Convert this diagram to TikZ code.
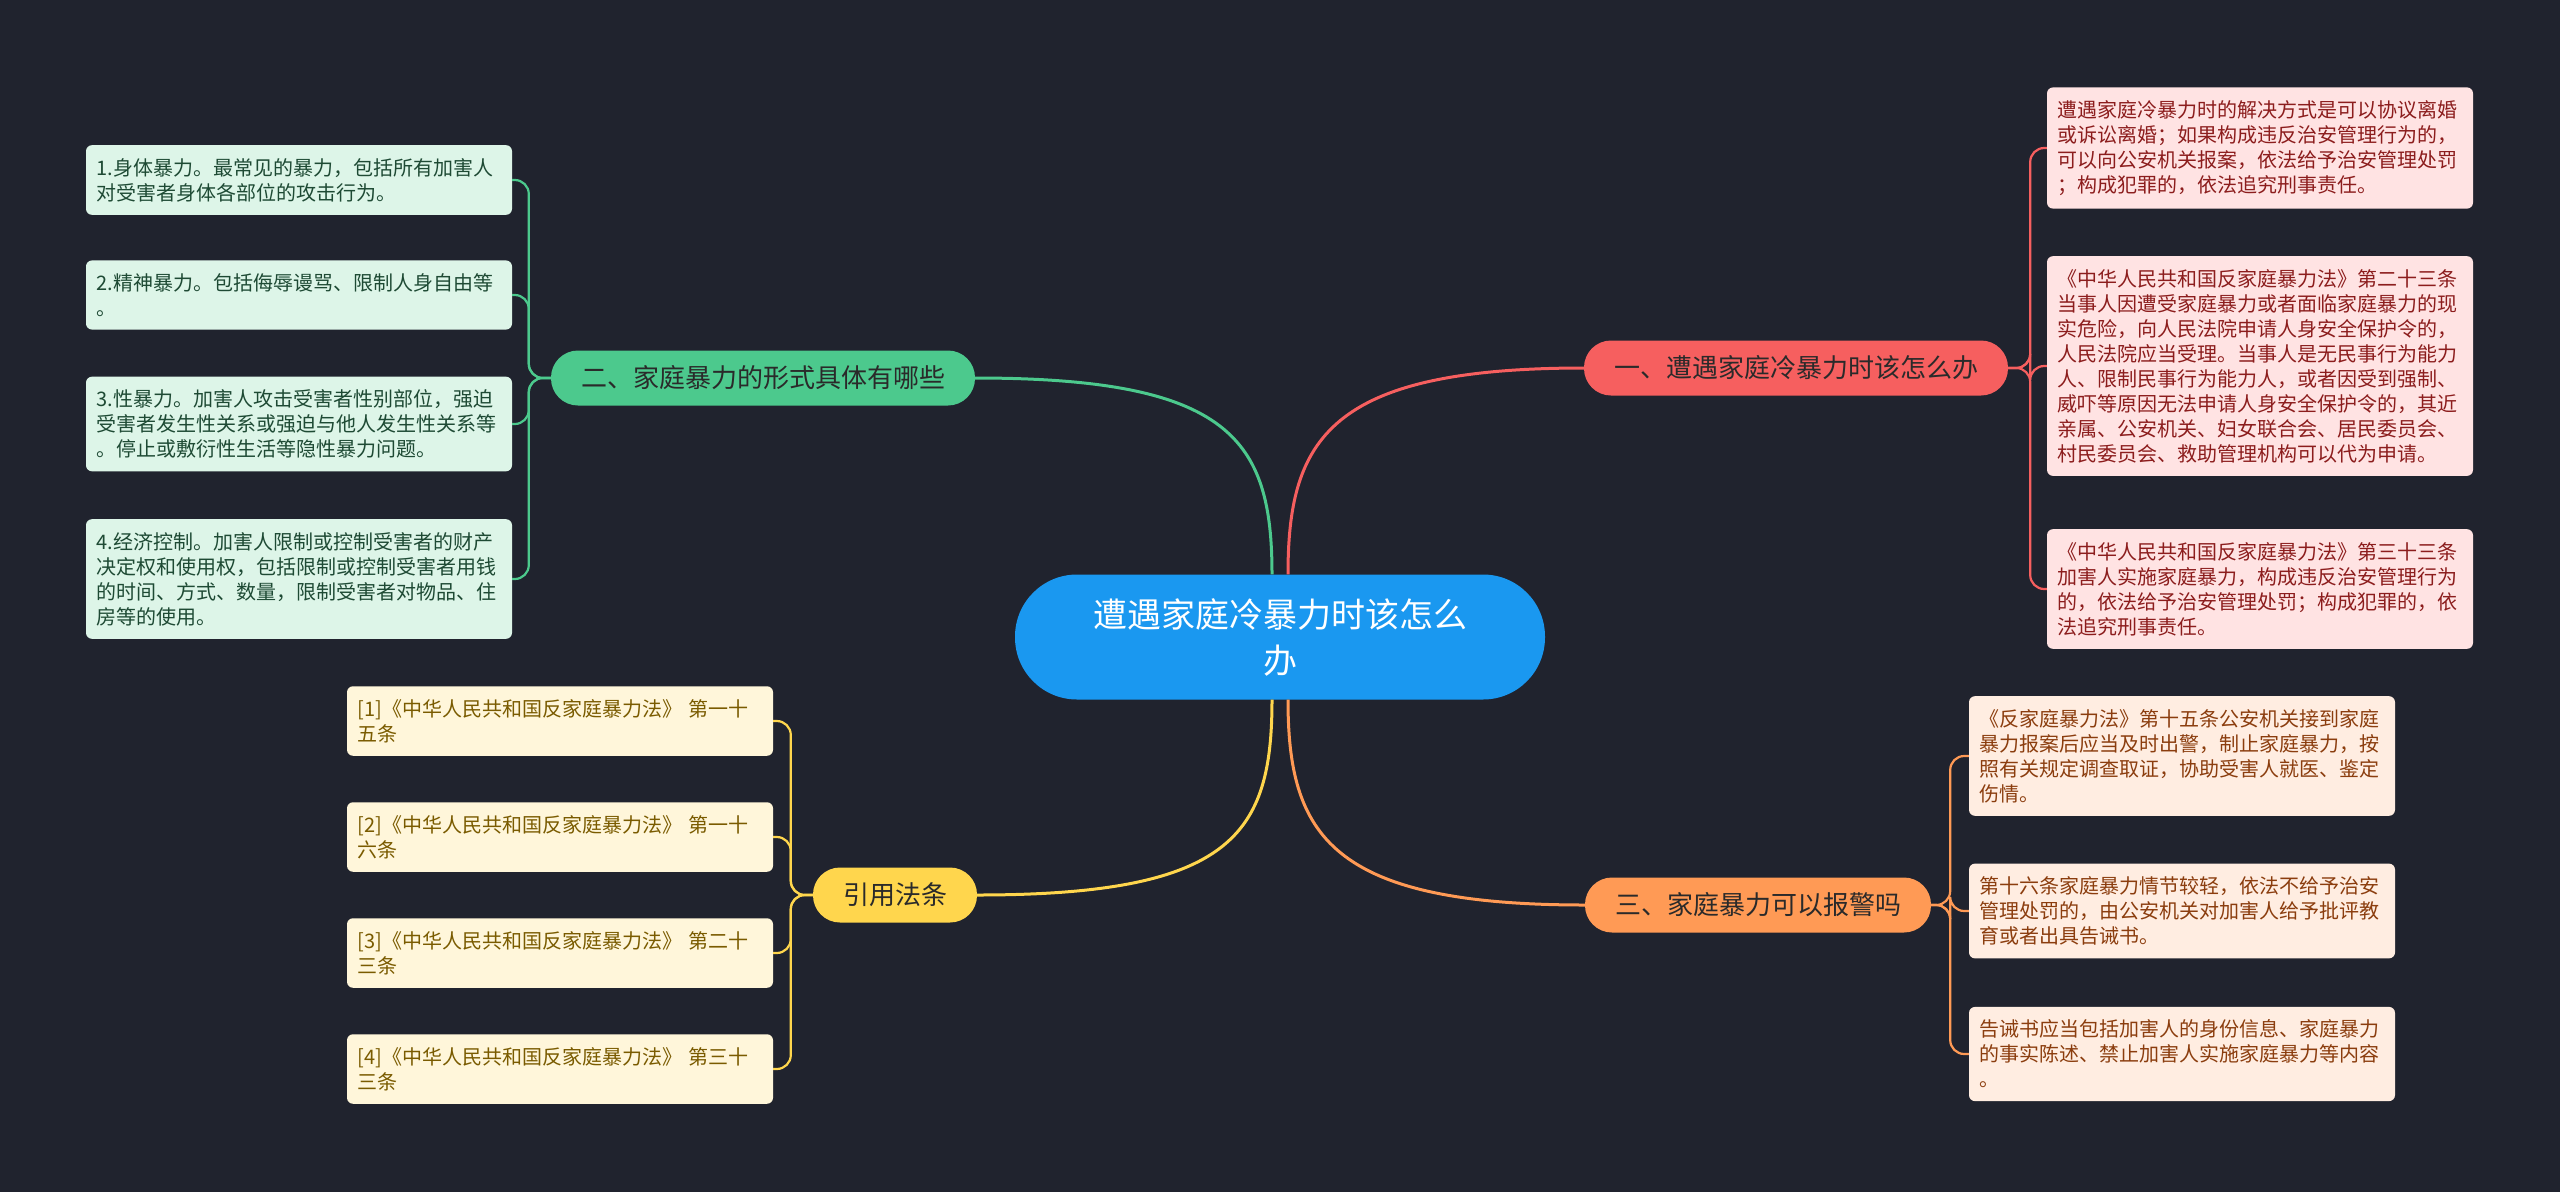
\documentclass[tikz,border=0pt]{standalone}
\usepackage{fontspec}
\setmainfont{Noto Sans CJK SC}
\usetikzlibrary{calc}
\definecolor{bgdark}{HTML}{20232E}
\definecolor{rootblue}{HTML}{1A98F0}
\definecolor{redmain}{HTML}{F65F5F}
\definecolor{redleaf}{HTML}{FFE3E3}
\definecolor{redtext}{HTML}{8C1D1D}
\definecolor{greenmain}{HTML}{4CC98D}
\definecolor{greenleaf}{HTML}{DDF5E8}
\definecolor{greentext}{HTML}{1E4A34}
\definecolor{yellowmain}{HTML}{FFD64D}
\definecolor{yellowleaf}{HTML}{FFF6DA}
\definecolor{yellowtext}{HTML}{7A5B00}
\definecolor{orangemain}{HTML}{FF9A55}
\definecolor{orangeleaf}{HTML}{FFEDE1}
\definecolor{orangetext}{HTML}{8B3D0E}
\definecolor{branchtext}{HTML}{2A2A2A}

\begin{document}
\begin{tikzpicture}[x=1pt, y=-1pt,
    root/.style={rectangle, rounded corners=62pt, fill=rootblue, text=white,
        minimum width=530pt, minimum height=125pt, align=center,
        font=\fontsize{34}{46}\selectfont},
    branch/.style={rectangle, rounded corners=27pt, minimum height=55pt,
        inner xsep=30pt, text=branchtext, font=\fontsize{26}{32}\selectfont},
    leaf/.style={rectangle, rounded corners=6pt, text width=405pt,
        inner xsep=10.5pt, inner ysep=13pt, align=left,
        font=\fontsize{20}{25}\selectfont},
    trunk/.style={line width=3pt},
    twig/.style={line width=2.2pt, rounded corners=14pt}]

    % Background and canvas size
    \fill[bgdark] (0,0) rectangle (2560,1192);
    \useasboundingbox (0,0) rectangle (2560,1192);

    % Central topic
    \node[root] (root) at (1280,637) {遭遇家庭冷暴力时该怎么\\办};

    % Main branches
    \node[branch, fill=redmain] (one) at (1796,368) {一、遭遇家庭冷暴力时该怎么办};
    \node[branch, fill=greenmain] (two) at (763,378) {二、家庭暴力的形式具体有哪些};
    \node[branch, fill=orangemain] (three) at (1758,905) {三、家庭暴力可以报警吗};
    \node[branch, fill=yellowmain] (law) at (895,895) {引用法条};

    % Right upper leaves (red)
    \node[leaf, fill=redleaf, text=redtext] (r1) at (2260,148) {遭遇家庭冷暴力时的解决方式是可以协议离婚\\或诉讼离婚；如果构成违反治安管理行为的，\\可以向公安机关报案，依法给予治安管理处罚\\；构成犯罪的，依法追究刑事责任。};
    \node[leaf, fill=redleaf, text=redtext] (r2) at (2260,366) {《中华人民共和国反家庭暴力法》第二十三条\\当事人因遭受家庭暴力或者面临家庭暴力的现\\实危险，向人民法院申请人身安全保护令的，\\人民法院应当受理。当事人是无民事行为能力\\人、限制民事行为能力人，或者因受到强制、\\威吓等原因无法申请人身安全保护令的，其近\\亲属、公安机关、妇女联合会、居民委员会、\\村民委员会、救助管理机构可以代为申请。};
    \node[leaf, fill=redleaf, text=redtext] (r3) at (2260,589) {《中华人民共和国反家庭暴力法》第三十三条\\加害人实施家庭暴力，构成违反治安管理行为\\的，依法给予治安管理处罚；构成犯罪的，依\\法追究刑事责任。};

    % Right lower leaves (orange)
    \node[leaf, fill=orangeleaf, text=orangetext] (o1) at (2182,756) {《反家庭暴力法》第十五条公安机关接到家庭\\暴力报案后应当及时出警，制止家庭暴力，按\\照有关规定调查取证，协助受害人就医、鉴定\\伤情。};
    \node[leaf, fill=orangeleaf, text=orangetext] (o2) at (2182,911) {第十六条家庭暴力情节较轻，依法不给予治安\\管理处罚的，由公安机关对加害人给予批评教\\育或者出具告诫书。};
    \node[leaf, fill=orangeleaf, text=orangetext] (o3) at (2182,1054) {告诫书应当包括加害人的身份信息、家庭暴力\\的事实陈述、禁止加害人实施家庭暴力等内容\\。};

    % Left upper leaves (green)
    \node[leaf, fill=greenleaf, text=greentext] (g1) at (299,180) {1.身体暴力。最常见的暴力，包括所有加害人\\对受害者身体各部位的攻击行为。};
    \node[leaf, fill=greenleaf, text=greentext] (g2) at (299,295) {2.精神暴力。包括侮辱谩骂、限制人身自由等\\。};
    \node[leaf, fill=greenleaf, text=greentext] (g3) at (299,424) {3.性暴力。加害人攻击受害者性别部位，强迫\\受害者发生性关系或强迫与他人发生性关系等\\。停止或敷衍性生活等隐性暴力问题。};
    \node[leaf, fill=greenleaf, text=greentext] (g4) at (299,579) {4.经济控制。加害人限制或控制受害者的财产\\决定权和使用权，包括限制或控制受害者用钱\\的时间、方式、数量，限制受害者对物品、住\\房等的使用。};

    % Left lower leaves (yellow)
    \node[leaf, fill=yellowleaf, text=yellowtext] (y1) at (560,721) {[1]《中华人民共和国反家庭暴力法》 第一十\\五条};
    \node[leaf, fill=yellowleaf, text=yellowtext] (y2) at (560,837) {[2]《中华人民共和国反家庭暴力法》 第一十\\六条};
    \node[leaf, fill=yellowleaf, text=yellowtext] (y3) at (560,953) {[3]《中华人民共和国反家庭暴力法》 第二十\\三条};
    \node[leaf, fill=yellowleaf, text=yellowtext] (y4) at (560,1069) {[4]《中华人民共和国反家庭暴力法》 第三十\\三条};

    % Root to branches
    \draw[trunk, redmain] ($(root.north)+(8,0)$) .. controls ($(root.north)+(8,-135)$) and ($(one.west)+(-255,0)$) .. (one.west);
    \draw[trunk, greenmain] ($(root.north)+(-8,0)$) .. controls ($(root.north)+(-8,-135)$) and ($(two.east)+(255,0)$) .. (two.east);
    \draw[trunk, orangemain] ($(root.south)+(8,0)$) .. controls ($(root.south)+(8,135)$) and ($(three.west)+(-255,0)$) .. (three.west);
    \draw[trunk, yellowmain] ($(root.south)+(-8,0)$) .. controls ($(root.south)+(-8,135)$) and ($(law.east)+(255,0)$) .. (law.east);

    % Branch one to its leaves
    \draw[twig, redmain] (one.east) -- ++(22,0) |- (r1.west);
    \draw[twig, redmain] (one.east) -- ++(22,0) |- (r2.west);
    \draw[twig, redmain] (one.east) -- ++(22,0) |- (r3.west);

    % Branch two to its leaves
    \draw[twig, greenmain] (two.west) -- ++(-22,0) |- (g1.east);
    \draw[twig, greenmain] (two.west) -- ++(-22,0) |- (g2.east);
    \draw[twig, greenmain] (two.west) -- ++(-22,0) |- (g3.east);
    \draw[twig, greenmain] (two.west) -- ++(-22,0) |- (g4.east);

    % Branch three to its leaves
    \draw[twig, orangemain] (three.east) -- ++(19,0) |- (o1.west);
    \draw[twig, orangemain] (three.east) -- ++(19,0) |- (o2.west);
    \draw[twig, orangemain] (three.east) -- ++(19,0) |- (o3.west);

    % Cited articles
    \draw[twig, yellowmain] (law.west) -- ++(-22,0) |- (y1.east);
    \draw[twig, yellowmain] (law.west) -- ++(-22,0) |- (y2.east);
    \draw[twig, yellowmain] (law.west) -- ++(-22,0) |- (y3.east);
    \draw[twig, yellowmain] (law.west) -- ++(-22,0) |- (y4.east);

\end{tikzpicture}
\end{document}
